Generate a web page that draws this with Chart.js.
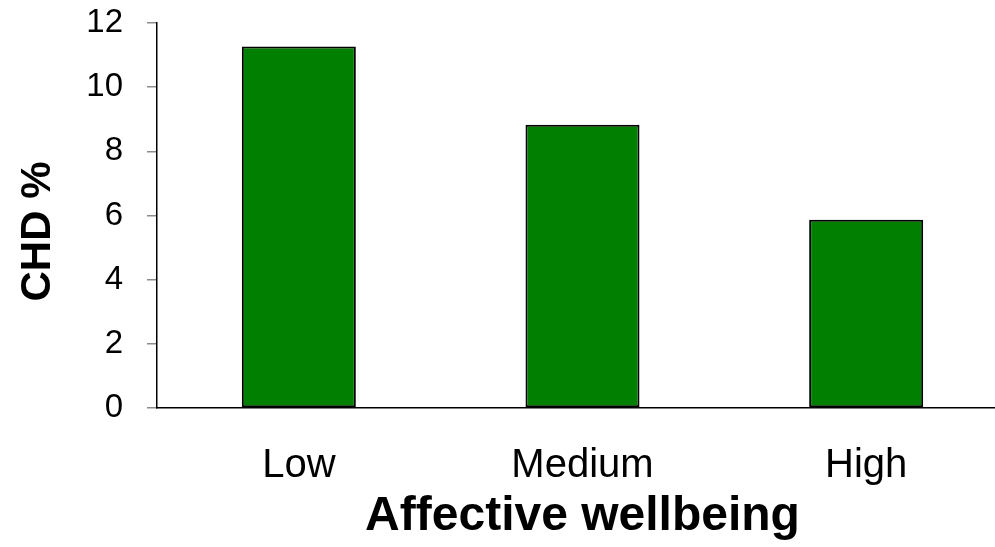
<!DOCTYPE html>
<html>
<head>
<meta charset="utf-8">
<script src="https://cdn.jsdelivr.net/npm/chart.js@4/dist/chart.umd.min.js"></script>
<style>
  html, body { margin: 0; padding: 0; background: #fff; overflow: hidden; }
  #wrap { width: 1008px; height: 547px; }
</style>
</head>
<body>
<div id="wrap"><canvas id="c" width="1008" height="547"></canvas></div>
<script>
// CHD incidence by level of affective wellbeing
const categories = ['Low', 'Medium', 'High'];
const chdPercent = [11.27, 8.83, 5.87];
const yTicks = [0, 2, 4, 6, 8, 10, 12];
const yTitle = 'CHD %';
const xTitle = 'Affective wellbeing';

const FONT = "'Liberation Sans', Arial, sans-serif";

// Rotated y-axis title, drawn a little below the middle of the plot area
const yTitlePlugin = {
  id: 'yTitle',
  afterDraw(chart) {
    const { ctx, chartArea } = chart;
    const cy = (chartArea.top + chartArea.bottom) / 2 + 16;
    ctx.save();
    ctx.translate(50, cy);
    ctx.rotate(-Math.PI / 2);
    ctx.font = "bold 42px " + FONT;
    ctx.fillStyle = '#000';
    ctx.textAlign = 'center';
    ctx.textBaseline = 'alphabetic';
    ctx.fillText(yTitle, 0, 0);
    ctx.restore();
  }
};

new Chart(document.getElementById('c'), {
  type: 'bar',
  data: {
    labels: categories,
    datasets: [{
      data: chdPercent,
      backgroundColor: '#007f00',
      borderColor: '#000000',
      borderWidth: 2,
      borderSkipped: false,
      barPercentage: 0.402,
      categoryPercentage: 1.0
    }]
  },
  plugins: [yTitlePlugin],
  options: {
    responsive: false,
    animation: false,
    layout: { padding: 0 },
    plugins: { legend: { display: false }, tooltip: { enabled: false } },
    scales: {
      x: {
        grid: { display: false, drawTicks: false },
        border: { display: true, color: '#000', width: 1.5 },
        ticks: {
          color: '#000',
          font: { family: FONT, size: 40 },
          padding: 34,
          maxRotation: 0
        },
        title: {
          display: true,
          text: xTitle,
          color: '#000',
          font: { family: FONT, size: 48, weight: 'bold' },
          padding: { top: 0, bottom: 1 }
        },
        afterFit: (s) => { s.height = 139; }
      },
      y: {
        min: yTicks[0],
        max: yTicks[yTicks.length - 1],
        afterBuildTicks: (s) => { s.ticks = yTicks.map(v => ({ value: v })); },
        grid: { drawOnChartArea: false, drawTicks: true, tickLength: 10, color: '#8c8c8c', lineWidth: 1.5 },
        border: { display: true, color: '#000', width: 1.5 },
        ticks: {
          color: '#000',
          font: { family: FONT, size: 33 },
          padding: 24
        },
        afterFit: (s) => {
          s.width = 157;
          s.paddingTop = 23;
          s.paddingBottom = 0;
        }
      }
    }
  }
});
</script>
</body>
</html>
